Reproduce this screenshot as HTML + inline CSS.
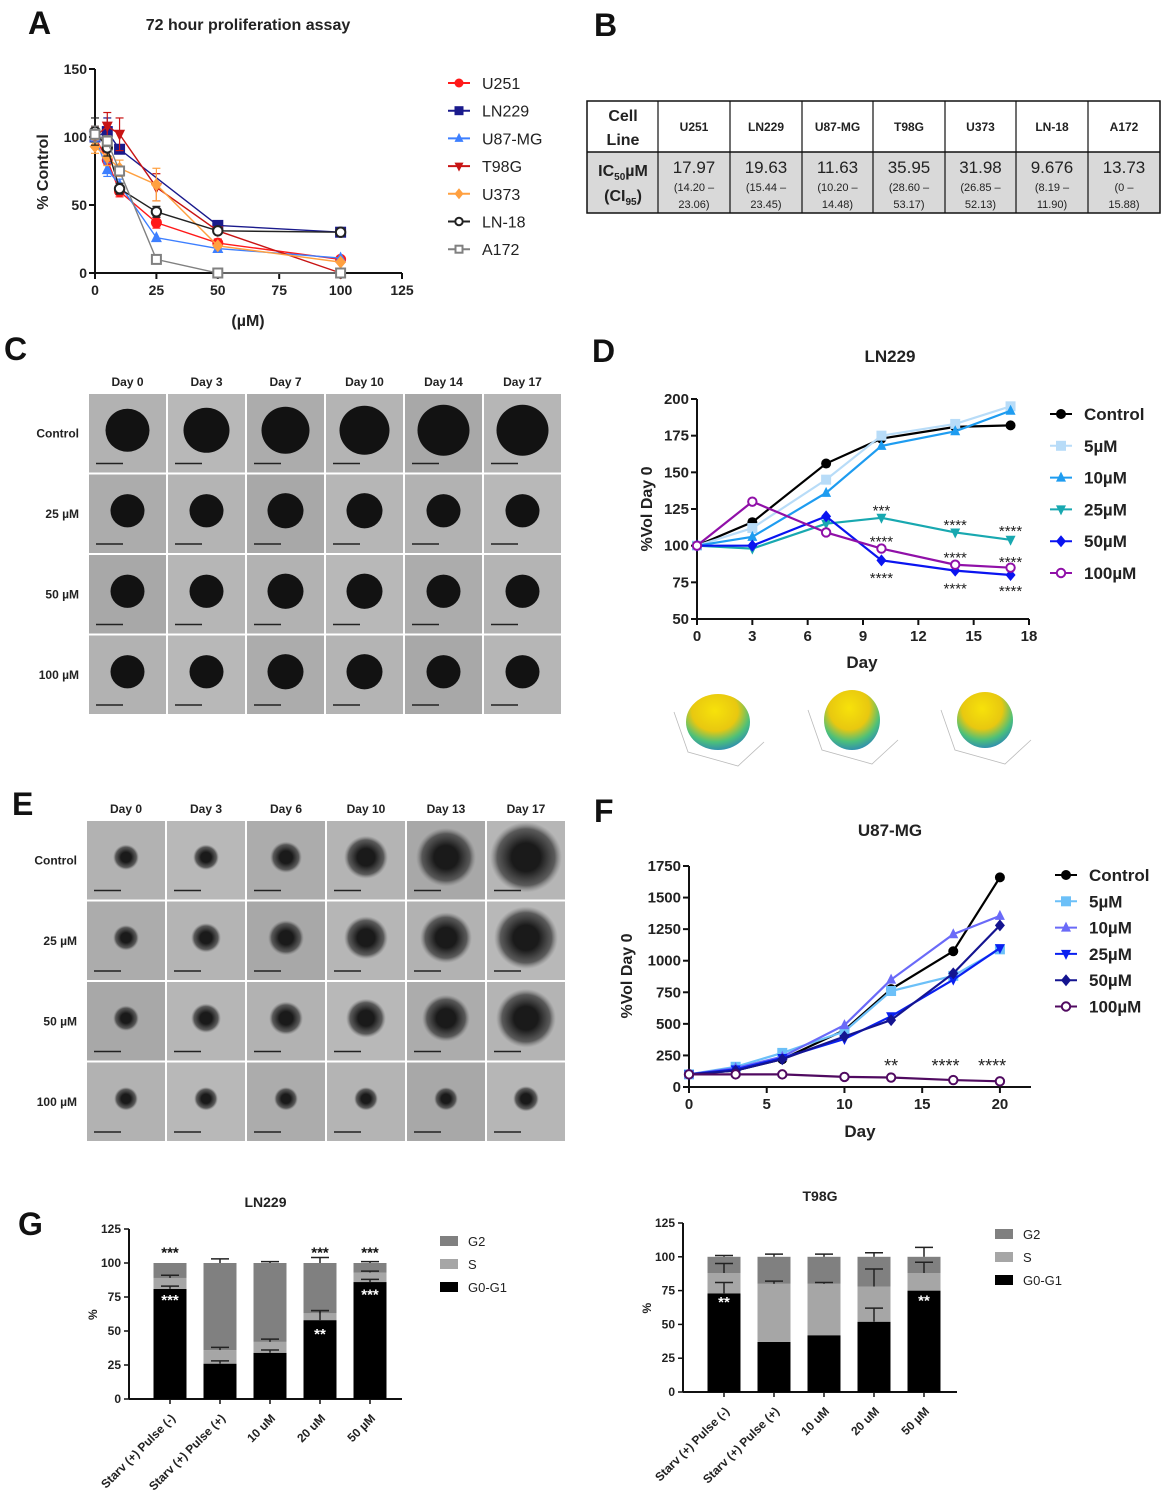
<!DOCTYPE html>
<html><head><meta charset="utf-8"><style>
html,body{margin:0;padding:0;background:#fff;}
svg{display:block;font-family:"Liberation Sans",Arial,sans-serif;}
</style></head><body>
<svg id="fig" width="1166" height="1498" viewBox="0 0 1166 1498" xmlns="http://www.w3.org/2000/svg">
<defs>
<radialGradient id="sph" cx="0.45" cy="0.3" r="0.8">
<stop offset="0" stop-color="#f7e20a"/><stop offset="0.45" stop-color="#e8c810"/><stop offset="0.7" stop-color="#4cc07a"/><stop offset="1" stop-color="#1f6fd0"/>
</radialGradient>
<radialGradient id="blobE" cx="0.5" cy="0.5" r="0.5"><stop offset="0.4" stop-color="#1a1a1a"/><stop offset="0.8" stop-color="#444" stop-opacity="0.8"/><stop offset="1" stop-color="#777" stop-opacity="0"/></radialGradient>
</defs>
<g id="root"></g>
</svg>
<script>
// ---------- Panel A data ----------
const aDoses = [0, 5, 10, 25, 50, 100];
const aNames = ["U251","LN229","U87-MG","T98G","U373","LN-18","A172"];
const aU251 = [100, 83, 60, 37, 22, 10];
const aLN229 = [100, 104, 91, null, 35, 30];
const aU87 = [100, 76, 65, 26, 18, 11];
const aT98G = [100, 108, 102, 63, 31, 0];
const aU373 = [93, 85, 77, 65, 20, 8];
const aLN18 = [104, 92, 62, 45, 31, 30];
const aA172 = [102, 97, 75, 10, 0, 0];
const aXTicks = [0, 25, 50, 75, 100, 125];
const aYTicks = [0, 50, 100, 150];
// ---------- Panel D data ----------
const dDays = [0, 3, 7, 10, 14, 17];
const dNames = ["Control","5µM","10µM","25µM","50µM","100µM"];
const dControl = [100, 116, 156, 173, 181, 182];
const d5 = [100, 112, 145, 175, 183, 195];
const d10 = [100, 106, 136, 168, 178, 192];
const d25 = [100, 98, 115, 119, 109, 104];
const d50 = [100, 100, 120, 90, 83, 80];
const d100 = [100, 130, 109, 98, 87, 85];
const dXTicks = [0, 3, 6, 9, 12, 15, 18];
const dYTicks = [50, 75, 100, 125, 150, 175, 200];
// ---------- Panel F data ----------
const fDays = [0, 3, 6, 10, 13, 17, 20];
const fControl = [100, 130, 220, 450, 775, 1075, 1660];
const f5 = [100, 160, 270, 440, 760, 880, 1090];
const f10 = [100, 150, 240, 490, 850, 1210, 1355];
const f25 = [100, 140, 230, 380, 560, 850, 1100];
const f50 = [100, 130, 220, 400, 530, 900, 1280];
const f100 = [100, 100, 100, 80, 75, 55, 45];
const fXTicks = [0, 5, 10, 15, 20];
const fYTicks = [0, 250, 500, 750, 1000, 1250, 1500, 1750];
// ---------- Panel G data ----------
const gCats = ["Starv (+) Pulse (-)","Starv (+) Pulse (+)","10 uM","20 uM","50 µM"];
const gLnG01 = [81, 26, 34, 58, 86];
const gLnS = [8, 10, 8, 5, 7];
const gLnG2 = [11, 64, 58, 37, 7];
const gT9G01 = [73, 37, 42, 52, 75];
const gT9S = [15, 43, 38, 26, 13];
const gT9G2 = [12, 20, 20, 22, 12];
const gYTicks = [0, 25, 50, 75, 100, 125];
// ---------- Table B ----------
const bCells = ["U251","LN229","U87-MG","T98G","U373","LN-18","A172"];
const bIC50 = ["17.97","19.63","11.63","35.95","31.98","9.676","13.73"];
const bCI = [["(14.20 –","23.06)"],["(15.44 –","23.45)"],["(10.20 –","14.48)"],["(28.60 –","53.17)"],["(26.85 –","52.13)"],["(8.19 –","11.90)"],["(0 –","15.88)"]];

const NS="http://www.w3.org/2000/svg";
const root=document.getElementById('root');
function mk(tag,attrs,parent){const e=document.createElementNS(NS,tag);for(const k in attrs)e.setAttribute(k,attrs[k]);(parent||root).appendChild(e);return e;}
function txt(x,y,s,size,opts,parent){opts=opts||{};const t=mk('text',Object.assign({x:x,y:y,'font-size':size,'font-weight':opts.w||'bold',fill:opts.fill||'#222','text-anchor':opts.a||'start'},opts.attr||{}),parent);t.textContent=s;return t;}
function lin(d0,d1,r0,r1){return v=>r0+(v-d0)/(d1-d0)*(r1-r0);}

[["A",28,34],["B",594,36],["C",4,360],["D",592,362],["E",12,815],["F",594,822],["G",18,1235]].forEach(p=>{
  const t=txt(p[1],p[2],p[0],32,{fill:'#111'});
  
  
});

function marker(g,type,x,y,c,s){
  s=s||5;let e;
  if(type==='circle')e=mk('circle',{cx:x,cy:y,r:s,fill:c},g);
  else if(type==='ocircle')e=mk('circle',{cx:x,cy:y,r:s-0.8,fill:'#fff',stroke:c,'stroke-width':2},g);
  else if(type==='square')e=mk('rect',{x:x-s,y:y-s,width:2*s,height:2*s,fill:c},g);
  else if(type==='osquare')e=mk('rect',{x:x-s+1,y:y-s+1,width:2*s-2,height:2*s-2,fill:'#fff',stroke:c,'stroke-width':2},g);
  else if(type==='tri')e=mk('polygon',{points:`${x},${y-s-1} ${x-s},${y+s-1} ${x+s},${y+s-1}`,fill:c},g);
  else if(type==='itri')e=mk('polygon',{points:`${x},${y+s+1} ${x-s},${y-s+1} ${x+s},${y-s+1}`,fill:c},g);
  else if(type==='diamond')e=mk('polygon',{points:`${x},${y-s-1} ${x+s},${y} ${x},${y+s+1} ${x-s},${y}`,fill:c},g);
  
  
  return e;
}

function lineChart(cfg){
  const g=mk('g',{});
  
  
  const X=lin(cfg.xd[0],cfg.xd[1],cfg.x0,cfg.x1), Y=lin(cfg.yd[0],cfg.yd[1],cfg.y0,cfg.y1);
  const ax=mk('g',{},g);
  
  
  mk('line',{x1:cfg.x0,y1:cfg.y0,x2:cfg.x1,y2:cfg.y0,stroke:'#111','stroke-width':2},ax);
  mk('line',{x1:cfg.x0,y1:cfg.y0,x2:cfg.x0,y2:cfg.y1,stroke:'#111','stroke-width':2},ax);
  cfg.xt.forEach(v=>{mk('line',{x1:X(v),x2:X(v),y1:cfg.y0,y2:cfg.y0+6,stroke:'#111','stroke-width':2},ax);
    const t=txt(X(v),cfg.y0+22,String(v),cfg.fs,{a:'middle'},ax);});
  cfg.yt.forEach(v=>{mk('line',{x1:cfg.x0-6,x2:cfg.x0,y1:Y(v),y2:Y(v),stroke:'#111','stroke-width':2},ax);
    const t=txt(cfg.x0-8,Y(v)+5,String(v),cfg.fs,{a:'end'},ax);});
  cfg.series.forEach((s,i)=>{
    const sg=mk('g',{},g);
    
    
    const pts=s.v.map((v,j)=>v==null?null:X(cfg.xs[j])+','+Y(v)).filter(p=>p).join(' ');
    mk('polyline',{points:pts,fill:'none',stroke:s.c,'stroke-width':cfg.lw||2},sg);
    if(s.err) s.v.forEach((v,j)=>{const e=s.err[j];if(!e||v==null)return;const x=X(cfg.xs[j]);
      mk('line',{x1:x,x2:x,y1:Y(v-e),y2:Y(v+e),stroke:s.c,'stroke-width':1.2},sg);
      mk('line',{x1:x-4,x2:x+4,y1:Y(v+e),y2:Y(v+e),stroke:s.c,'stroke-width':1.2},sg);
      mk('line',{x1:x-4,x2:x+4,y1:Y(v-e),y2:Y(v-e),stroke:s.c,'stroke-width':1.2},sg);});
    s.v.forEach((v,j)=>{if(v!=null)marker(sg,s.m,X(cfg.xs[j]),Y(v),s.c,cfg.ms);});
  });
  cfg.series.forEach((s,i)=>{
    const ly=cfg.ly+i*cfg.lsp;
    const lg=mk('g',{},g);
    
    
    mk('line',{x1:cfg.lx,x2:cfg.lx+22,y1:ly,y2:ly,stroke:s.c,'stroke-width':2},lg);
    marker(lg,s.m,cfg.lx+11,ly,s.c,cfg.lms||cfg.ms);
    txt(cfg.lx+34,ly+6,s.n,cfg.lfs,{w:cfg.lw8||'bold',fill:'#222'},lg);
  });
  return {X,Y,g};
}

// ---------- Panel A ----------
txt(248,30,"72 hour proliferation assay",16,{a:'middle'});
const A=lineChart({name:'proliferation-chart',x0:95,x1:402,y0:273,y1:69,xd:[0,125],yd:[0,150],xt:aXTicks,yt:aYTicks,fs:14,xs:aDoses,ms:5.5,lms:4.5,lw:1.4,
 lx:448,ly:83,lsp:27.7,lfs:16,lw8:'normal',
 series:[{n:aNames[0],v:aU251,c:'#ff1a1a',m:'circle',err:[8,3,4,4,3,0]},
 {n:aNames[1],v:aLN229,c:'#1a1a8c',m:'square',err:[6,10,0,0,0,0]},
 {n:aNames[2],v:aU87,c:'#3d7fff',m:'tri',err:[6,5,4,0,0,0]},
 {n:aNames[3],v:aT98G,c:'#c81414',m:'itri',err:[8,10,12,10,0,0]},
 {n:aNames[4],v:aU373,c:'#ffa040',m:'diamond',err:[5,6,6,12,0,0]},
 {n:aNames[5],v:aLN18,c:'#222',m:'ocircle',err:[10,6,4,4,0,0]},
 {n:aNames[6],v:aA172,c:'#808080',m:'osquare',err:[6,4,3,0,0,0]}]});
txt(48,172,"% Control",16,{a:'middle',attr:{transform:'rotate(-90 48 172)'}});
txt(248,326,"(µM)",16,{a:'middle'});

// ---------- Table B ----------
(function(){
  const g=mk('g',{});
  
  
  const cx=[587,658,730,802,873,945,1016,1088,1160];
  mk('rect',{x:587,y:152,width:573,height:61,fill:'#d9d9d9'},g);
  mk('rect',{x:587,y:101,width:573,height:112,fill:'none',stroke:'#111','stroke-width':1.5},g);
  mk('line',{x1:587,x2:1160,y1:152,y2:152,stroke:'#111','stroke-width':1.5},g);
  cx.slice(1,-1).forEach(x=>mk('line',{x1:x,x2:x,y1:101,y2:213,stroke:'#111','stroke-width':1.2},g));
  txt(623,121,"Cell",16,{a:'middle'},g);txt(623,145,"Line",16,{a:'middle'},g);
  const t1=txt(623,176,"IC",16,{a:'middle'},g);
  t1.innerHTML='IC<tspan font-size="10" dy="4">50</tspan><tspan dy="-4">µM</tspan>';
  const t2=txt(623,201,"",16,{a:'middle'},g);
  t2.innerHTML='(CI<tspan font-size="10" dy="4">95</tspan><tspan dy="-4">)</tspan>';
  bCells.forEach((c,i)=>{const m=(cx[i+1]+cx[i+2])/2;
    const h=txt(m,131,c,12,{a:'middle'},g);
    txt(m,173,bIC50[i],17,{a:'middle',w:'normal'},g);
    txt(m,191,bCI[i][0],11,{a:'middle',w:'normal'},g);
    txt(m,208,bCI[i][1],11,{a:'middle',w:'normal'},g);
  });
})();

// ---------- Image grids ----------
function grid(cfg){
  const g=mk('g',{});
  
  
  cfg.cols.forEach((c,i)=>{const t=txt(cfg.x+cfg.cw*(i+0.5),cfg.y-7,c,12,{a:'middle'},g);});
  cfg.rows.forEach((r,j)=>{const t=txt(cfg.x-9,cfg.y+cfg.ch*(j+0.5)+4,r,12,{a:'end'},g);});
  for(let j=0;j<cfg.rows.length;j++)for(let i=0;i<cfg.cols.length;i++){
    const x=cfg.x+i*cfg.cw,y=cfg.y+j*cfg.ch;
    const cell=mk('g',{},g);
    
    
    const shade=[178,184,172,180,168,182][(i+j*2)%6];
    mk('rect',{x:x+1,y:y+1,width:cfg.cw-2,height:cfg.ch-2,fill:`rgb(${shade},${shade},${shade})`},cell);
    const r=cfg.r(i,j);
    mk('ellipse',{cx:x+cfg.cw/2,cy:y+cfg.ch/2-3,rx:r,ry:r*0.98,fill:cfg.fill},cell);
    mk('line',{x1:x+8,x2:x+35,y1:y+cfg.ch-10,y2:y+cfg.ch-10,stroke:'#222','stroke-width':1.5},cell);
  }
}
grid({name:'ln229-spheroid-images',x:88,y:393,cw:79,ch:80.5,cols:["Day 0","Day 3","Day 7","Day 10","Day 14","Day 17"],rows:["Control","25 µM","50 µM","100 µM"],fill:'#121212',
  r:(i,j)=>j===0?[22,23,24,25,26,26][i]:[17,17,18,18,17,17][i]});
grid({name:'u87-spheroid-images',x:86,y:820,cw:80,ch:80.5,cols:["Day 0","Day 3","Day 6","Day 10","Day 13","Day 17"],rows:["Control","25 µM","50 µM","100 µM"],fill:'url(#blobE)',
  r:(i,j)=>j===0?[13,13,16,22,30,36][i]:j===1?[13,15,18,22,26,32][i]:j===2?[13,15,17,20,24,30][i]:[12,12,12,12,12,13][i]});

// ---------- Panel D ----------
txt(890,362,"LN229",17,{a:'middle'});
const D=lineChart({name:'ln229-volume-chart',x0:697,x1:1029,y0:619,y1:399,xd:[0,18],yd:[50,200],xt:dXTicks,yt:dYTicks,fs:15,xs:dDays,ms:5,lw:2.2,
 lx:1050,ly:414,lsp:31.8,lfs:17,
 series:[{n:dNames[0],v:dControl,c:'#000',m:'circle'},{n:dNames[1],v:d5,c:'#b8dcf8',m:'square'},{n:dNames[2],v:d10,c:'#1e9cf0',m:'tri'},
 {n:dNames[3],v:d25,c:'#18a8b0',m:'itri'},{n:dNames[4],v:d50,c:'#0a14f0',m:'diamond'},{n:dNames[5],v:d100,c:'#9010a8',m:'ocircle'}]});
txt(652,509,"%Vol Day 0",16,{a:'middle',attr:{transform:'rotate(-90 652 509)'}});
txt(862,668,"Day",17,{a:'middle'});
[[10,126,"***"],[14,116,"****"],[17,112,"****"],[10,105,"****"],[14,94,"****"],[17,91,"****"],[10,80,"****"],[14,73,"****"],[17,71,"****"]].forEach(s=>{
  const t=txt(D.X(s[0]),D.Y(s[1])+8,s[2],15,{a:'middle',w:'normal'});});
[[718,722,32,28],[852,720,28,30],[985,720,28,28]].forEach(s=>{
  const g=mk('g',{});
  mk('polyline',{points:`${s[0]-44},${s[1]-10} ${s[0]-30},${s[1]+30} ${s[0]+20},${s[1]+44} ${s[0]+46},${s[1]+20}`,fill:'none',stroke:'#bbb','stroke-width':0.8},g);
  mk('ellipse',{cx:s[0],cy:s[1],rx:s[2],ry:s[3],fill:'url(#sph)'},g);
});

// ---------- Panel F ----------
txt(890,836,"U87-MG",17,{a:'middle'});
const F=lineChart({name:'u87-volume-chart',x0:689,x1:1031,y0:1087,y1:866,xd:[0,22],yd:[0,1750],xt:fXTicks,yt:fYTicks,fs:15,xs:fDays,ms:5,lw:2.2,
 lx:1055,ly:875,lsp:26.3,lfs:17,
 series:[{n:dNames[0],v:fControl,c:'#000',m:'circle'},{n:dNames[1],v:f5,c:'#6cc0f8',m:'square'},{n:dNames[2],v:f10,c:'#6a6af8',m:'tri'},
 {n:dNames[3],v:f25,c:'#0a20f0',m:'itri'},{n:dNames[4],v:f50,c:'#141490',m:'diamond'},{n:dNames[5],v:f100,c:'#500a60',m:'ocircle'}]});
txt(632,976,"%Vol Day 0",16,{a:'middle',attr:{transform:'rotate(-90 632 976)'}});
txt(860,1137,"Day",17,{a:'middle'});
[[13,"**"],[16.5,"****"],[19.5,"****"]].forEach(s=>{const t=txt(F.X(s[0]),1072,s[1],18,{a:'middle',w:'normal'});});

// ---------- Panel G ----------
function barChart(cfg){
  const g=mk('g',{});
  
  
  const Y=lin(0,125,cfg.y0,cfg.y1);
  txt((cfg.x0+cfg.x1)/2,cfg.y1-22,cfg.title,14,{a:'middle'},g);
  mk('line',{x1:cfg.x0,x2:cfg.x1,y1:cfg.y0,y2:cfg.y0,stroke:'#111','stroke-width':2},g);
  mk('line',{x1:cfg.x0,x2:cfg.x0,y1:cfg.y0,y2:cfg.y1,stroke:'#111','stroke-width':2},g);
  gYTicks.forEach(v=>{mk('line',{x1:cfg.x0-5,x2:cfg.x0,y1:Y(v),y2:Y(v),stroke:'#111','stroke-width':1.5},g);
    const t=txt(cfg.x0-8,Y(v)+4,String(v),12,{a:'end'},g);});
  txt(cfg.x0-32,Y(62),"%",12,{a:'middle',attr:{transform:`rotate(-90 ${cfg.x0-32} ${Y(62)})`}},g);
  const bw=50, w=33;
  gCats.forEach((c,i)=>{
    const cx=cfg.x0+41+bw*i;
    const vals=[cfg.g01[i],cfg.s[i],cfg.g2[i]], cols=['#000','#a6a6a6','#808080'];
    let acc=0;
    vals.forEach((v,k)=>{const r=mk('rect',{x:cx-w/2,y:Y(acc+v),width:w,height:Y(acc)-Y(acc+v),fill:cols[k]},g);
      
      
      acc+=v;});
    const tops=[cfg.g01[i],cfg.g01[i]+cfg.s[i],100];
    tops.forEach((t,k)=>{const e=cfg.err[k][i];if(!e)return;
      mk('line',{x1:cx,x2:cx,y1:Y(t),y2:Y(t+e),stroke:'#222','stroke-width':1.5},g);
      mk('line',{x1:cx-9,x2:cx+9,y1:Y(t+e),y2:Y(t+e),stroke:'#222','stroke-width':1.5},g);});
    mk('line',{x1:cx,x2:cx,y1:cfg.y0,y2:cfg.y0+5,stroke:'#111','stroke-width':1.5},g);
    const lt=txt(cx+6,cfg.y0+20,c,12,{a:'end',attr:{transform:`rotate(-45 ${cx+6} ${cfg.y0+20})`}},g);
    
  });
  cfg.stars.forEach(s=>{const cx=cfg.x0+41+bw*s[0];
    const t=txt(cx,Y(s[1]),s[2],15,{a:'middle',fill:s[3]},g);});
  [["G2",'#808080'],["S",'#a6a6a6'],["G0-G1",'#000']].forEach((l,k)=>{
    const lg=mk('g',{},g);
    mk('rect',{x:cfg.lx,y:cfg.ly+k*23-5,width:18,height:10,fill:l[1]},lg);
    txt(cfg.lx+28,cfg.ly+k*23+5,l[0],13,{w:'normal'},lg);});
}
barChart({name:'ln229-cell-cycle-chart',title:'LN229',x0:129,x1:402,y0:1399,y1:1229,g01:gLnG01,s:gLnS,g2:gLnG2,
  err:[[2,2,2,7,2],[2,2,2,2,1],[0,3,1,4,1]],lx:440,ly:1241,
  stars:[[0,104,"***",'#111'],[0,69,"***",'#fff'],[3,104,"***",'#111'],[3,44,"**",'#fff'],[4,104,"***",'#111'],[4,73,"***",'#fff']]});
barChart({name:'t98g-cell-cycle-chart',title:'T98G',x0:683,x1:957,y0:1392,y1:1223,g01:gT9G01,s:gT9S,g2:gT9G2,
  err:[[8,0,0,10,0],[7,2,1,13,8],[1,2,2,3,7]],lx:995,ly:1234,
  stars:[[0,63,"**",'#fff'],[4,64,"**",'#fff']]});
</script>
</body></html>
